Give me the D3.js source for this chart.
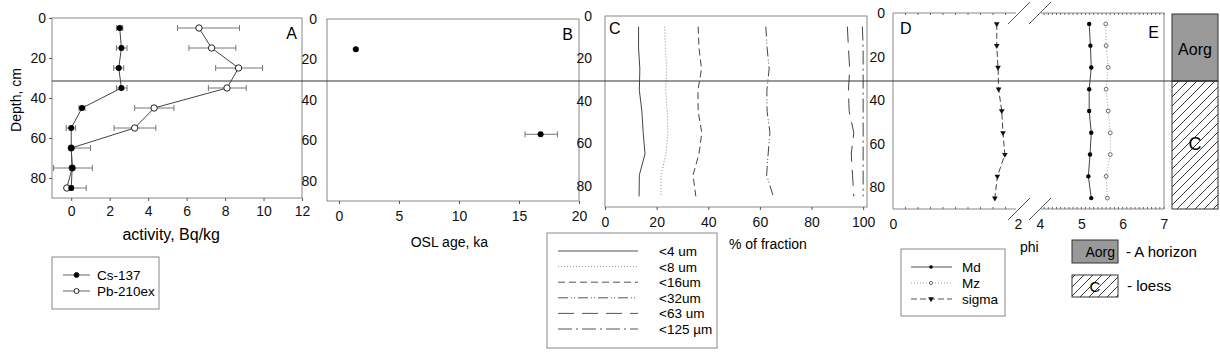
<!DOCTYPE html>
<html>
<head>
<meta charset="utf-8">
<script src="https://cdn.jsdelivr.net/npm/d3@7"></script>
<style>
  body { margin: 0; background: #fff; }
  svg { font-family: "Liberation Sans", Arial, sans-serif; }
</style>
</head>
<body>
<div id="chart"></div>
<script>
const depths = [5, 15, 25, 35, 45, 55, 65, 75, 85];

// panel A, activity Bq/kg
const cs137 = [2.52, 2.61, 2.47, 2.61, 0.56, 0.0, 0.0, 0.05, 0.0];
const cs137Lo = [2.36, 2.35, 2.21, 2.35, 0.40, -0.26, 0.0, -0.05, -0.1];
const cs137Hi = [2.68, 2.90, 2.73, 2.90, 0.72, 0.23, 0.0, 0.15, 0.1];
const pb210 = [6.64, 7.30, 8.70, 8.10, 4.31, 3.30, 0.0, 0.05, -0.23];
const pb210Lo = [5.53, 6.12, 7.51, 7.13, 3.30, 2.23, -0.1, -0.92, -0.3];
const pb210Hi = [8.75, 8.56, 9.95, 9.10, 5.34, 4.40, 1.0, 1.10, 0.78];

// panel B, OSL
const oslDepth = [15, 57];
const oslAge = [1.4, 16.8];
const oslLo = [1.4, 15.5];
const oslHi = [1.4, 18.2];

// panel C, % of fraction
const fractionNames = ["<4 um", "<8 um", "<16um", "<32um", "<63 um", "<125 \u00b5m"];
const frac4 = [13.0, 13.0, 13.5, 13.3, 14.3, 14.8, 15.5, 13.3, 13.2];
const frac8 = [23.1, 23.4, 23.9, 23.5, 24.1, 24.4, 23.6, 21.7, 21.7];
const frac16 = [36.1, 36.4, 37.4, 36.0, 36.1, 37.5, 36.4, 34.1, 35.2];
const frac32 = [62.3, 62.8, 63.6, 62.7, 62.8, 63.9, 63.2, 62.6, 65.2];
const frac63 = [93.9, 94.3, 94.8, 94.3, 94.6, 96.4, 95.4, 95.9, 96.4];
const frac125 = [99.7, 100, 100, 100, 100, 100, 100, 100, 100];

// panels D/E, phi
const sigma = [1.66, 1.66, 1.68, 1.69, 1.74, 1.76, 1.79, 1.67, 1.63];
const md = [5.19, 5.22, 5.24, 5.19, 5.19, 5.24, 5.21, 5.17, 5.24];
const mz = [5.59, 5.60, 5.65, 5.60, 5.65, 5.70, 5.70, 5.60, 5.63];

const horizonDepth = 31.5;
const depthTicks = [0, 20, 40, 60, 80];

const width = 1220, height = 353;
const svg = d3.select("#chart").append("svg")
  .attr("width", width).attr("height", height);

const defs = svg.append("defs");
const pat = defs.append("pattern").attr("id", "hatch")
  .attr("patternUnits", "userSpaceOnUse").attr("width", 9).attr("height", 9);
pat.append("path").attr("d", "M-2,2 L2,-2 M0,9 L9,0 M7,11 L11,7")
  .attr("stroke", "#222").attr("stroke-width", 0.9);

const boxColor = "#888";
const lineColor = "#444";
const tickFont = 14;

function frame(x0, x1, y0, y1) {
  svg.append("rect").attr("x", x0).attr("y", y0)
    .attr("width", x1 - x0).attr("height", y1 - y0)
    .attr("fill", "none").attr("stroke", boxColor);
}

function styleAxis(g) {
  g.select(".domain").remove();
  g.selectAll("line").attr("stroke", "#555");
  g.selectAll("text").attr("font-size", tickFont).attr("fill", "#111")
    .attr("font-family", "Liberation Sans, Arial, sans-serif");
}

// ---------- A ----------
const xA = d3.scaleLinear().domain([-1, 12]).range([52, 302]);
const yA = d3.scaleLinear().domain([0, 90]).range([18, 198]);
frame(52, 302, 18, 198);
svg.append("g").attr("transform", "translate(52,0)")
  .call(d3.axisLeft(yA).tickValues(depthTicks).tickSize(3).tickPadding(3)).call(styleAxis);
svg.append("g").attr("transform", "translate(0,198)")
  .call(d3.axisBottom(xA).tickValues(d3.range(0, 13, 2)).tickSize(3).tickPadding(5)).call(styleAxis);

const lineA = (vals) => d3.line().x((d, i) => xA(vals[i])).y(d => yA(d))(depths);
function errBars(xs, lo, hi, ys, cap) {
  const g = svg.append("g").attr("stroke", "#777").attr("stroke-width", 1);
  ys.forEach((d, i) => {
    if (hi[i] - lo[i] <= 0) return;
    g.append("line").attr("x1", xs(lo[i])).attr("x2", xs(hi[i])).attr("y1", d).attr("y2", d);
    g.append("line").attr("x1", xs(lo[i])).attr("x2", xs(lo[i])).attr("y1", d - cap).attr("y2", d + cap);
    g.append("line").attr("x1", xs(hi[i])).attr("x2", xs(hi[i])).attr("y1", d - cap).attr("y2", d + cap);
  });
}
const yDepA = depths.map(d => yA(d));
errBars(xA, pb210Lo, pb210Hi, yDepA, 3);
errBars(xA, cs137Lo, cs137Hi, yDepA, 3);
svg.append("path").attr("d", lineA(pb210)).attr("fill", "none").attr("stroke", lineColor);
svg.append("path").attr("d", lineA(cs137)).attr("fill", "none").attr("stroke", lineColor);
svg.append("g").selectAll("circle").data(depths).join("circle")
  .attr("cx", (d, i) => xA(pb210[i])).attr("cy", d => yA(d)).attr("r", 3.2)
  .attr("fill", "#fff").attr("stroke", "#222");
svg.append("g").selectAll("circle").data(depths).join("circle")
  .attr("cx", (d, i) => xA(cs137[i])).attr("cy", d => yA(d)).attr("r", 3)
  .attr("fill", "#000");
svg.append("text").attr("x", 297).attr("y", 39).attr("text-anchor", "end")
  .attr("font-size", 16).text("A");
svg.append("text").attr("x", xA(5.2)).attr("y", 240).attr("text-anchor", "middle")
  .attr("font-size", 16).text("activity, Bq/kg");
svg.append("text").attr("transform", "translate(21,100) rotate(-90)")
  .attr("text-anchor", "middle").attr("font-size", 14).text("Depth, cm");

// legend A
svg.append("rect").attr("x", 52).attr("y", 257).attr("width", 107).attr("height", 52)
  .attr("fill", "none").attr("stroke", boxColor);
[["Cs-137", "#000"], ["Pb-210ex", "#fff"]].forEach(([name, fill], i) => {
  const y = 275 + i * 16;
  svg.append("line").attr("x1", 63).attr("x2", 90).attr("y1", y).attr("y2", y).attr("stroke", "#666");
  svg.append("circle").attr("cx", 76.5).attr("cy", y).attr("r", 2.5).attr("fill", fill).attr("stroke", "#222");
  svg.append("text").attr("x", 97).attr("y", y + 5).attr("font-size", 13.5).text(name);
});

// ---------- B ----------
const xB = d3.scaleLinear().domain([-1, 20]).range([327, 579]);
const yB = d3.scaleLinear().domain([0, 90]).range([19, 201]);
frame(327, 579, 19, 201);
svg.append("g").attr("transform", "translate(327,0)")
  .call(d3.axisLeft(yB).tickValues(depthTicks).tickSize(0).tickPadding(10)).call(styleAxis);
svg.append("g").attr("transform", "translate(0,201)")
  .call(d3.axisBottom(xB).tickValues(d3.range(0, 21, 5)).tickSize(3).tickPadding(7)).call(styleAxis);
errBars(xB, oslLo, oslHi, oslDepth.map(d => yB(d)), 3);
svg.append("g").selectAll("circle").data(oslDepth).join("circle")
  .attr("cx", (d, i) => xB(oslAge[i])).attr("cy", d => yB(d)).attr("r", 3).attr("fill", "#000");
svg.append("text").attr("x", 573).attr("y", 40).attr("text-anchor", "end")
  .attr("font-size", 16).text("B");
svg.append("text").attr("x", xB(9.2)).attr("y", 247).attr("text-anchor", "middle")
  .attr("font-size", 14).text("OSL age, ka");

// ---------- C ----------
const xC = d3.scaleLinear().domain([0, 101.5]).range([605, 867]);
const yC = d3.scaleLinear().domain([0, 90]).range([16, 207]);
frame(605, 867, 16, 207);
svg.append("g").attr("transform", "translate(605,0)")
  .call(d3.axisLeft(yC).tickValues(depthTicks).tickSize(0).tickPadding(13)).call(styleAxis);
svg.append("g").attr("transform", "translate(0,207)")
  .call(d3.axisBottom(xC).tickValues(d3.range(0, 101, 20)).tickSize(3).tickPadding(7)).call(styleAxis);
const fracSeries = [frac4, frac8, frac16, frac32, frac63, frac125];
const fracDash = ["none", "1,2", "7,4", "10,3,1,2,1,3", "16,8", "14,4,2,4"];
fracSeries.forEach((vals, k) => {
  svg.append("path")
    .attr("d", d3.line().x((d, i) => xC(vals[i])).y(d => yC(d))(depths))
    .attr("fill", "none").attr("stroke", k === 1 ? "#888" : lineColor)
    .attr("stroke-dasharray", fracDash[k]);
});
svg.append("text").attr("x", 609).attr("y", 34).attr("font-size", 16).text("C");
svg.append("text").attr("x", 729).attr("y", 249).attr("font-size", 14).text("% of fraction");

// legend C
svg.append("rect").attr("x", 547).attr("y", 233).attr("width", 170).attr("height", 115)
  .attr("fill", "none").attr("stroke", boxColor);
fractionNames.forEach((name, k) => {
  const y = 251 + k * 15.6;
  svg.append("line").attr("x1", 558).attr("x2", 638).attr("y1", y).attr("y2", y)
    .attr("stroke", k === 1 ? "#999" : "#555").attr("stroke-dasharray", fracDash[k]);
  svg.append("text").attr("x", 659).attr("y", y + 5).attr("font-size", 13.5).text(name);
});

// ---------- D / E ----------
const xD = d3.scaleLinear().domain([0, 2, 4, 7]).range([893, 1018, 1040, 1164]);
const yD = d3.scaleLinear().domain([0, 90]).range([13, 209]);
const gapL = 1016, gapR = 1041;
const dBox = svg.append("g").attr("stroke", boxColor).attr("fill", "none");
dBox.append("path").attr("d", `M${gapL},13 H893 V209 H${gapL} M${gapR},13 H1164 V209 H${gapR}`);
const slash = svg.append("g").attr("stroke", "#555");
[13, 209].forEach(y => {
  [1008, 1029].forEach(x => {
    slash.append("line").attr("x1", x).attr("y1", y + 11).attr("x2", x + 22).attr("y2", y - 11);
  });
});
// minor ticks
const minorD = d3.range(0.2, 2, 0.2).concat(d3.range(4.1, 7, 0.1));
const mt = svg.append("g").attr("stroke", "#666");
minorD.forEach(v => {
  mt.append("line").attr("x1", xD(v)).attr("x2", xD(v)).attr("y1", 209).attr("y2", 207);
  mt.append("line").attr("x1", xD(v)).attr("x2", xD(v)).attr("y1", 13).attr("y2", 15);
});
svg.append("g").attr("transform", "translate(893,0)")
  .call(d3.axisLeft(yD).tickValues(depthTicks).tickSize(0).tickPadding(8)).call(styleAxis);
svg.append("g").attr("transform", "translate(0,209)")
  .call(d3.axisBottom(xD).tickValues([0, 2, 4, 5, 6, 7]).tickFormat(d3.format("d"))
    .tickSize(0).tickPadding(10)).call(styleAxis);

const lineD = (vals) => d3.line().x((d, i) => xD(vals[i])).y(d => yD(d))(depths);
svg.append("path").attr("d", lineD(sigma)).attr("fill", "none").attr("stroke", lineColor)
  .attr("stroke-dasharray", "6,3");
svg.append("path").attr("d", lineD(md)).attr("fill", "none").attr("stroke", lineColor);
svg.append("path").attr("d", lineD(mz)).attr("fill", "none").attr("stroke", "#999")
  .attr("stroke-dasharray", "1,2");
const tri = d3.symbol().type(d3.symbolTriangle).size(14);
svg.append("g").selectAll("path").data(depths).join("path")
  .attr("d", tri).attr("fill", "#111")
  .attr("transform", (d, i) => `translate(${xD(sigma[i])},${yD(d)}) rotate(180)`);
svg.append("g").selectAll("circle").data(depths).join("circle")
  .attr("cx", (d, i) => xD(md[i])).attr("cy", d => yD(d)).attr("r", 2.2).attr("fill", "#000");
svg.append("g").selectAll("circle").data(depths).join("circle")
  .attr("cx", (d, i) => xD(mz[i])).attr("cy", d => yD(d)).attr("r", 1.9)
  .attr("fill", "#fff").attr("stroke", "#666");
svg.append("text").attr("x", 900).attr("y", 34).attr("font-size", 16).text("D");
svg.append("text").attr("x", 1159).attr("y", 38).attr("text-anchor", "end").attr("font-size", 16).text("E");
svg.append("text").attr("x", 1020).attr("y", 252).attr("font-size", 14).text("phi");

// legend D
svg.append("rect").attr("x", 901).attr("y", 249).attr("width", 104).attr("height", 67)
  .attr("fill", "none").attr("stroke", boxColor);
[["Md", "none", "dot"], ["Mz", "1,2", "open"], ["sigma", "6,3", "tri"]].forEach(([name, dash, mk], i) => {
  const y = 267 + i * 16;
  svg.append("line").attr("x1", 911).attr("x2", 952).attr("y1", y).attr("y2", y)
    .attr("stroke", mk === "open" ? "#999" : "#555").attr("stroke-dasharray", dash);
  if (mk === "dot") svg.append("circle").attr("cx", 931).attr("cy", y).attr("r", 1.8).attr("fill", "#000");
  if (mk === "open") svg.append("circle").attr("cx", 931).attr("cy", y).attr("r", 1.6).attr("fill", "#fff").attr("stroke", "#666");
  if (mk === "tri") svg.append("path").attr("d", tri).attr("fill", "#111")
    .attr("transform", `translate(931,${y}) rotate(180)`);
  svg.append("text").attr("x", 962).attr("y", y + 5).attr("font-size", 13.5).text(name);
});

// lithology column
const colX = 1172, colW = 46;
const hy = yA(horizonDepth);
svg.append("rect").attr("x", colX).attr("y", 14).attr("width", colW).attr("height", hy - 14)
  .attr("fill", "#999").attr("stroke", "#333");
svg.append("rect").attr("x", colX).attr("y", hy).attr("width", colW).attr("height", 209 - hy)
  .attr("fill", "url(#hatch)").attr("stroke", "#333");
svg.append("text").attr("x", colX + colW / 2).attr("y", 55).attr("text-anchor", "middle")
  .attr("font-size", 16).text("Aorg");
svg.append("text").attr("x", colX + colW / 2).attr("y", 150).attr("text-anchor", "middle")
  .attr("font-size", 18).text("C");

// horizon line
svg.append("line").attr("x1", 52).attr("x2", 1218).attr("y1", hy).attr("y2", hy)
  .attr("stroke", "#333").attr("stroke-width", 1.1);

// lithology legend
svg.append("rect").attr("x", 1072).attr("y", 240).attr("width", 46).attr("height", 23)
  .attr("fill", "#999").attr("stroke", "#333");
svg.append("text").attr("x", 1115).attr("y", 257).attr("text-anchor", "end").attr("font-size", 14).text("Aorg");
svg.append("text").attr("x", 1126).attr("y", 257).attr("font-size", 15).text("- A horizon");
svg.append("rect").attr("x", 1072).attr("y", 275).attr("width", 46).attr("height", 22)
  .attr("fill", "url(#hatch)").attr("stroke", "#333");
svg.append("text").attr("x", 1095).attr("y", 292).attr("text-anchor", "middle").attr("font-size", 15).text("C");
svg.append("text").attr("x", 1127).attr("y", 291).attr("font-size", 15).text("- loess");
</script>
</body>
</html>
